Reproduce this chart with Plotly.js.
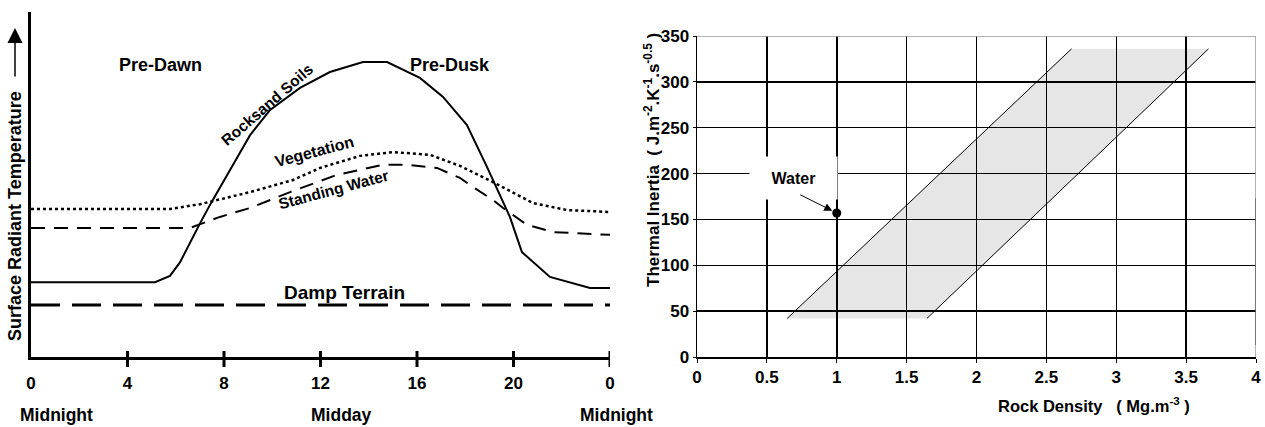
<!DOCTYPE html>
<html>
<head>
<meta charset="utf-8">
<script src="https://cdn.plot.ly/plotly-3.0.1.min.js"></script>
<style>html,body{margin:0;padding:0;background:#fff;}#chart{width:1265px;height:427px;}</style>
</head>
<body>
<div id="chart"></div>
<script>
// ---------- Left chart: diurnal surface radiant temperature (relative units) ----------
const hourTicks = [0, 4, 8, 12, 16, 20, 24];
const hourLabels = ['0', '4', '8', '12', '16', '20', '0'];

const rockHours = [0, 5.14, 5.76, 6.18, 7.01, 7.46, 8.25, 9.08, 9.91, 11.15, 12.39, 13.76, 14.76, 16.12, 17.08, 18.07, 18.90, 19.85, 20.35, 21.51, 23.17, 24.08];
const rockTemp  = [21.7, 21.7, 23.5, 27.5, 38.8, 44.6, 54.2, 64.3, 71.6, 78.0, 82.6, 85.5, 85.5, 80.9, 75.4, 67.2, 55.1, 40.6, 30.4, 23.2, 20.0, 20.0];

const vegHours = [0, 5.76, 7.01, 8.04, 9.08, 10.86, 11.98, 13.64, 15.01, 16.54, 17.78, 19.15, 20.81, 22.22, 24.08];
const vegTemp  = [42.9, 42.9, 44.3, 46.1, 47.8, 51.3, 54.8, 58.3, 59.4, 58.6, 55.4, 50.7, 44.6, 42.6, 42.0];

const waterHours = [0, 6.59, 7.83, 9.08, 10.74, 12.68, 14.59, 15.59, 16.83, 17.78, 18.32, 19.15, 19.57, 20.56, 21.64, 24.0];
const waterTemp  = [37.4, 37.4, 40.6, 43.2, 47.8, 52.8, 55.7, 55.7, 54.8, 51.9, 49.3, 45.5, 43.2, 38.3, 36.2, 35.4];

const dampHours = [0, 24];
const dampTemp  = [15.1, 15.1];

// ---------- Right chart: thermal inertia vs rock density ----------
const densityTicks = [0, 0.5, 1, 1.5, 2, 2.5, 3, 3.5, 4];
const inertiaTicks = [0, 50, 100, 150, 200, 250, 300, 350];
const bandLeftDensity  = [0.645, 2.68];
const bandRightDensity = [1.645, 3.66];
const bandInertia      = [42, 336];
const waterDensity = [1.0];
const waterInertia = [157];

const bold = {family: 'Liberation Sans, Arial, sans-serif', weight: 'bold', color: 'black'};
const f = (s) => Object.assign({}, bold, {size: s});

const traces = [
  {x: rockHours, y: rockTemp, mode: 'lines', line: {color: 'black', width: 2}, xaxis: 'x', yaxis: 'y', cliponaxis: false},
  {x: vegHours, y: vegTemp, mode: 'lines', line: {color: 'black', width: 2.5, dash: '3px,3px'}, xaxis: 'x', yaxis: 'y', cliponaxis: false},
  {x: waterHours, y: waterTemp, mode: 'lines', line: {color: 'black', width: 2, dash: '14px,9px'}, xaxis: 'x', yaxis: 'y', cliponaxis: false},
  {x: dampHours, y: dampTemp, mode: 'lines', line: {color: 'black', width: 3, dash: '29px,12px'}, xaxis: 'x', yaxis: 'y', cliponaxis: false},
  {x: bandLeftDensity, y: bandInertia, mode: 'lines', line: {color: 'black', width: 1}, xaxis: 'x2', yaxis: 'y2'},
  {x: bandRightDensity, y: bandInertia, mode: 'lines', line: {color: 'black', width: 1}, xaxis: 'x2', yaxis: 'y2'},
  {x: waterDensity, y: waterInertia, mode: 'markers', marker: {color: 'black', size: 9}, xaxis: 'x2', yaxis: 'y2', cliponaxis: false}
];

const shapes = [];
// grey band (below the grid)
shapes.push({type: 'path', xref: 'x2', yref: 'y2', layer: 'below',
  path: 'M' + bandLeftDensity[0] + ',' + bandInertia[0] + ' L' + bandRightDensity[0] + ',' + bandInertia[0] +
        ' L' + bandRightDensity[1] + ',' + bandInertia[1] + ' L' + bandLeftDensity[1] + ',' + bandInertia[1] + ' Z',
  fillcolor: '#e6e6e6', line: {width: 0}});
hourTicks.slice(1).forEach(t => {
  shapes.push({type: 'line', xref: 'x', yref: 'paper', x0: t, x1: t, y0: 60/427, y1: 76/427, line: {color: 'black', width: 3}});
});
// top and right border of right plot (grey), plus dark segment on right edge
shapes.push({type: 'line', xref: 'x2', yref: 'y2', x0: densityTicks[0], x1: densityTicks[densityTicks.length-1], y0: 350, y1: 350, line: {color: '#999', width: 1.5}});
shapes.push({type: 'line', xref: 'x2', yref: 'y2', x0: 4, x1: 4, y0: 0, y1: 350, line: {color: '#999', width: 1.5}});
shapes.push({type: 'line', xref: 'x2', yref: 'y2', x0: 4.003, x1: 4.003, y0: 13, y1: 173, line: {color: 'black', width: 1.5}});

const C = {xanchor: 'center', yanchor: 'middle', showarrow: false};
const annotations = [
  Object.assign({xref: 'x', yref: 'y', x: 5.35, y: 84.6, text: 'Pre-Dawn', font: f(18)}, C),
  Object.assign({xref: 'x', yref: 'y', x: 9.78, y: 73.3, text: 'Rocksand Soils', textangle: -41, font: f(15.5)}, C),
  Object.assign({xref: 'x', yref: 'y', x: 17.37, y: 84.6, text: 'Pre-Dusk', font: f(18)}, C),
  Object.assign({xref: 'x', yref: 'y', x: 11.75, y: 59.5, text: 'Vegetation', textangle: -15, font: f(16)}, C),
  Object.assign({xref: 'x', yref: 'y', x: 12.55, y: 48.5, text: 'Standing Water', textangle: -15, font: f(15.5)}, C),
  Object.assign({xref: 'x', yref: 'y', x: 13.0, y: 18.6, text: 'Damp Terrain', font: f(19)}, C),
  Object.assign({xref: 'paper', yref: 'paper', x: 57/1265, y: 12/427, text: 'Midnight', font: f(17.5)}, C),
  Object.assign({xref: 'paper', yref: 'paper', x: 341/1265, y: 12/427, text: 'Midday', font: f(17.5)}, C),
  Object.assign({xref: 'paper', yref: 'paper', x: 616/1265, y: 12/427, text: 'Midnight', font: f(17.5)}, C),
  Object.assign({xref: 'paper', yref: 'paper', x: 15/1265, y: (427-216)/427, text: 'Surface Radiant Temperature', textangle: -90, font: f(18)}, C),
  {xref: 'paper', yref: 'paper', x: 15/1265, y: (427-28)/427, ax: 0, ay: 50, text: '', showarrow: true, arrowhead: 2, arrowsize: 2, arrowwidth: 1.5, arrowcolor: 'black'},
  Object.assign({xref: 'paper', yref: 'paper', x: 652/1265, y: (427-160)/427, text: 'Thermal Inertia\u00a0\u00a0( J.m<sup>-2</sup>.K<sup>-1</sup>.s<sup>-0.5</sup> )', textangle: -90, font: f(17)}, C),
  Object.assign({xref: 'paper', yref: 'paper', x: 1094/1265, y: 22/427, text: 'Rock Density\u00a0\u00a0\u00a0( Mg.m<sup>-3</sup> )', font: f(16.5)}, C),
  Object.assign({xref: 'x2', yref: 'y2', x: 0.694, y: 195, text: 'Water', width: 85, height: 40, bgcolor: 'white', font: f(16)}, C),
  {xref: 'x2', yref: 'y2', x: waterDensity[0], y: waterInertia[0], ax: -38, ay: -19, text: '', showarrow: true, arrowhead: 2, arrowsize: 1.6, arrowwidth: 1, standoff: 5, arrowcolor: 'black'}
];

const layout = {
  width: 1265, height: 427,
  margin: {l: 0, r: 0, t: 0, b: 0},
  paper_bgcolor: 'white', plot_bgcolor: 'rgba(0,0,0,0)',
  showlegend: false,
  font: {family: 'Liberation Sans, Arial, sans-serif', color: 'black'},
  xaxis: {domain: [31/1265, 610/1265], range: [0, 24], tickmode: 'array', tickvals: hourTicks, ticktext: hourLabels,
          ticks: '', showline: true, linewidth: 3, linecolor: 'black', showgrid: false, zeroline: false,
          tickfont: f(17), ticklabelstandoff: 9, anchor: 'y', fixedrange: true},
  yaxis: {domain: [70/427, 415/427], range: [0, 100], showticklabels: false, ticks: '', showline: true, linewidth: 3,
          linecolor: 'black', showgrid: false, zeroline: false, anchor: 'x', fixedrange: true},
  xaxis2: {domain: [697/1265, 1256/1265], range: [0, 4], tickmode: 'array', tickvals: densityTicks,
           ticktext: densityTicks.map(String), ticks: 'outside', ticklen: 4, tickcolor: 'black',
           showgrid: true, gridcolor: 'black', gridwidth: 1.5, showline: true, linecolor: 'black', linewidth: 1.5,
           zeroline: false, anchor: 'y2', tickfont: f(17), fixedrange: true},
  yaxis2: {domain: [70/427, 391/427], range: [0, 350], tickmode: 'array', tickvals: inertiaTicks,
           ticktext: inertiaTicks.map(String), ticks: 'outside', ticklen: 3, tickcolor: 'black',
           showgrid: true, gridcolor: 'black', gridwidth: 1.5, showline: true, linecolor: 'black', linewidth: 1.5,
           zeroline: false, anchor: 'x2', tickfont: f(17), fixedrange: true},
  shapes: shapes,
  annotations: annotations
};

Plotly.newPlot('chart', traces, layout, {staticPlot: true, displayModeBar: false});
</script>
</body>
</html>
